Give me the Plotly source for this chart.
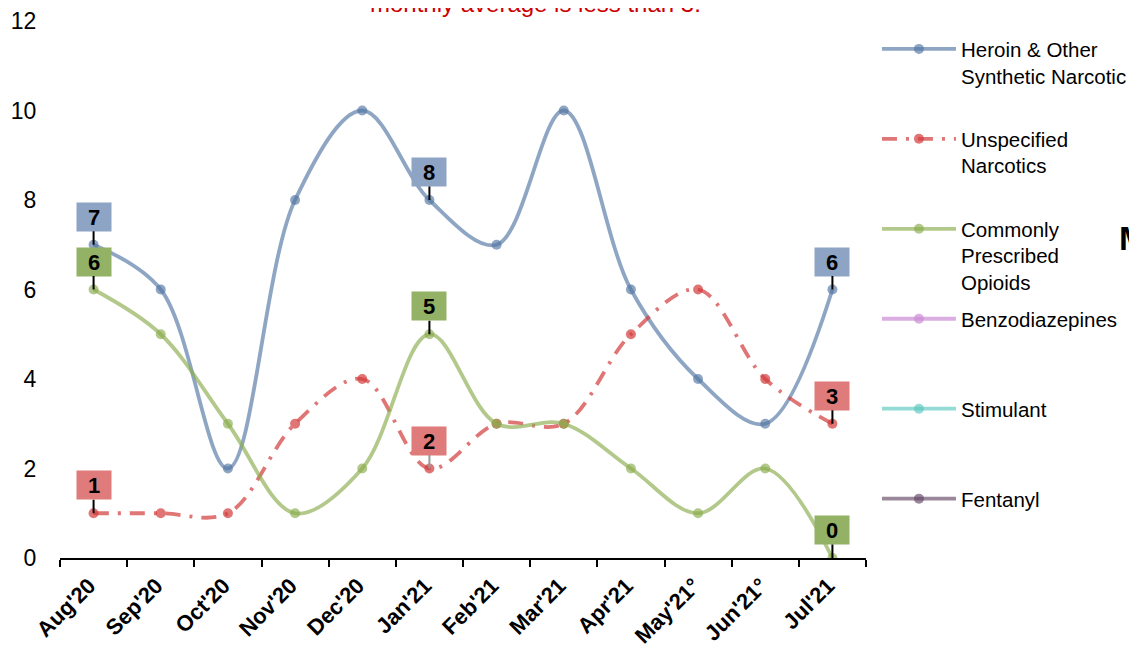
import plotly.graph_objects as go

months = ["Aug'20", "Sep'20", "Oct'20", "Nov'20", "Dec'20", "Jan'21",
          "Feb'21", "Mar'21", "Apr'21", "May'21°", "Jun'21°", "Jul'21"]
heroin = [7, 6, 2, 8, 10, 8, 7, 10, 6, 4, 3, 6]
unspecified = [1, 1, 1, 3, 4, 2, 3, 3, 5, 6, 4, 3]
prescribed = [6, 5, 3, 1, 2, 5, 3, 3, 2, 1, 2, 0]
benzodiazepines = [None, None, None, None, None, None, None, None, None, None, None, None]
stimulant = [None, None, None, None, None, None, None, None, None, None, None, None]
fentanyl = [None, None, None, None, None, None, None, None, None, None, None, None]

series_names = ["Heroin & Other<br>Synthetic Narcotic<br> ",
                "Unspecified<br>Narcotics<br> ",
                "Commonly<br>Prescribed<br>Opioids",
                "Benzodiazepines<br> <br> ",
                "Stimulant<br> <br> ",
                "Fentanyl<br> <br> "]
series_values = [heroin, unspecified, prescribed, benzodiazepines, stimulant, fentanyl]
line_colors = ["rgba(81,117,163,0.65)", "rgba(211,58,58,0.7)", "rgba(138,172,77,0.65)",
               "rgba(204,140,214,0.7)", "rgba(90,200,190,0.65)", "rgba(100,70,100,0.65)"]
dashes = ["solid", "15px,9px,3px,9px", "solid", "solid", "solid", "solid"]

label_months = ["Aug'20", "Jan'21", "Jul'21"]
label_fills = ["#8DA4C4", "#E07B7B", "#93B266"]

FONT = "Arial, Liberation Sans, sans-serif"

fig = go.Figure()
for i, (nm, vals) in enumerate(zip(series_names, series_values)):
    fig.add_trace(go.Scatter(
        x=months, y=vals, name=nm, mode="lines+markers",
        line=dict(color=line_colors[i], width=3.8, shape="spline", smoothing=1.0, dash=dashes[i]),
        marker=dict(color=line_colors[i], size=10),
        legendgroup=str(i), connectgaps=False,
    ))

# value label boxes for the first three series
for s, vals in enumerate(series_values[:3]):
    for m in label_months:
        idx = months.index(m)
        fig.add_annotation(
            x=m, y=vals[idx], text="<b>%d</b>" % vals[idx],
            showarrow=True, arrowhead=0, arrowwidth=2,
            arrowcolor="#999999" if (s == 1 and m == "Jan'21") else "black",
            ax=0, ay=-28, bgcolor=label_fills[s], width=30, height=24, borderpad=2,
            font=dict(family=FONT, size=22, color="black"),
        )

fig.add_annotation(
    xref="paper", yref="paper", x=0.59, y=1.032, yanchor="middle",
    text="monthly average is less than 3.", showarrow=False,
    font=dict(family=FONT, size=24, color="#CC0000"),
)
fig.add_annotation(
    xref="paper", yref="paper", x=1.311, y=0.596, xanchor="left", yanchor="middle",
    text="<b>M</b>", showarrow=False,
    font=dict(family=FONT, size=34, color="black"),
)

fig.update_layout(
    width=1137, height=646,
    margin=dict(l=52, r=279, t=13, b=96, autoexpand=False),
    paper_bgcolor="white", plot_bgcolor="white",
    font=dict(family=FONT, size=20, color="black"),
    showlegend=True,
    legend=dict(x=1.0136, xanchor="left", y=0.985, yanchor="top",
                font=dict(family=FONT, size=20.5, color="black"),
                valign="top", tracegroupgap=7, itemwidth=74,
                bgcolor="rgba(0,0,0,0)"),
    xaxis=dict(type="category", range=[-0.5, 11.5], showgrid=False, automargin=False,
               showline=True, linecolor="black", linewidth=1.5,
               ticks="outside", tickson="boundaries", ticklen=7, tickcolor="black",
               tickwidth=1.5, tickangle=-45,
               tickvals=months, ticktext=["<b>%s</b>\u00a0" % m for m in months],
               tickfont=dict(family=FONT, size=22, color="black"), zeroline=False),
    yaxis=dict(range=[0, 12], dtick=2, showgrid=False, showline=False, zeroline=False,
               automargin=False,
               ticks="outside", ticklen=18, tickcolor="rgba(0,0,0,0)",
               tickfont=dict(family=FONT, size=23, color="black")),
)

fig.write_html("out.html")
